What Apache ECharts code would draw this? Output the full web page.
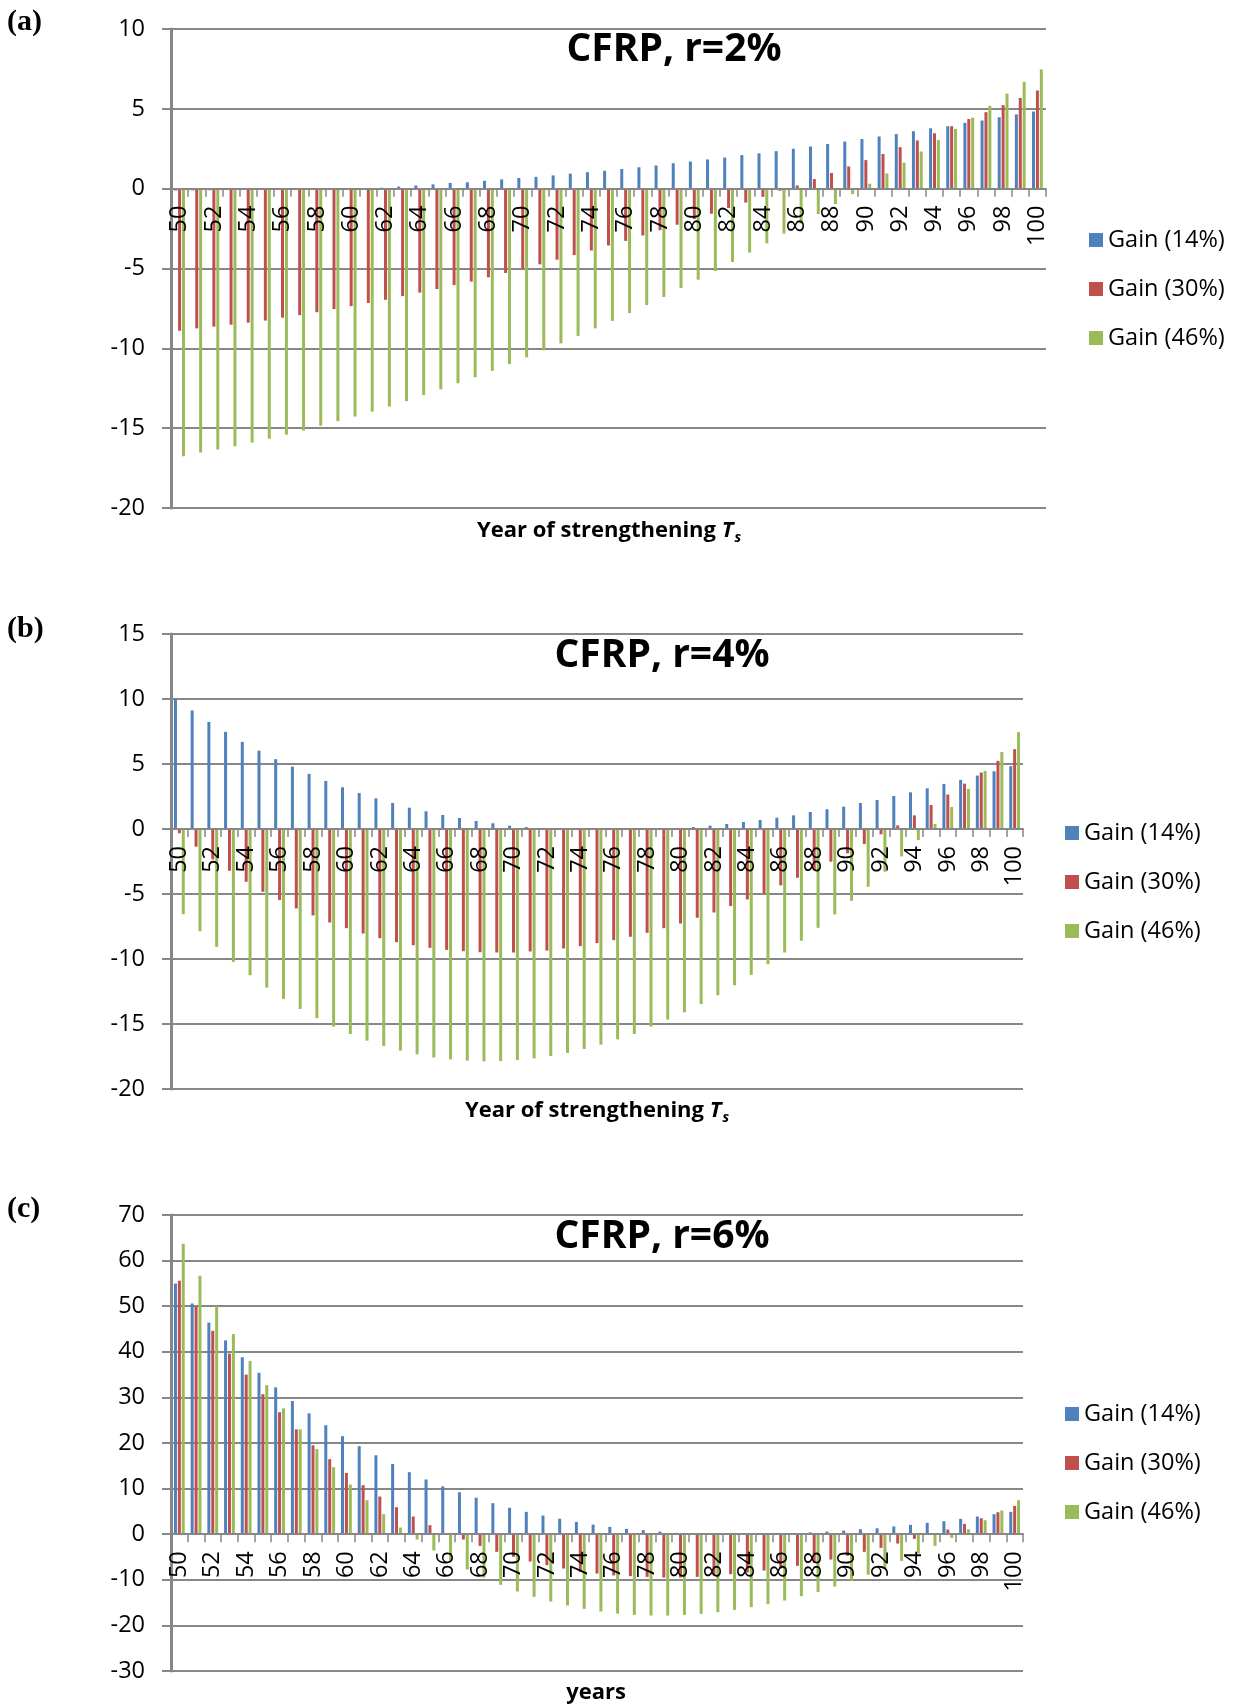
<!DOCTYPE html>
<html>
<head>
<meta charset="utf-8">
<script src="https://cdn.jsdelivr.net/npm/echarts@6/dist/echarts.min.js"></script>
<style>
html,body{margin:0;padding:0;background:#fff;}
#chart{width:1241px;height:1708px;}
</style>
</head>
<body>
<div id="chart"></div>
<script>
const years = ['50','51','52','53','54','55','56','57','58','59','60','61','62','63','64','65','66','67','68','69','70','71','72','73','74','75','76','77','78','79','80','81','82','83','84','85','86','87','88','89','90','91','92','93','94','95','96','97','98','99','100'];

const seriesNames = ['Gain (14%)', 'Gain (30%)', 'Gain (46%)'];

// Panel (a): CFRP, r=2%
const gain14_r2 = [-0.12,-0.11,-0.10,-0.09,-0.08,-0.07,-0.06,-0.05,-0.04,-0.03,-0.01,0.02,0.06,0.13,0.20,0.27,0.36,0.40,0.49,0.58,0.67,0.74,0.83,0.94,1.03,1.12,1.23,1.34,1.45,1.59,1.70,1.83,1.95,2.10,2.21,2.35,2.50,2.64,2.80,2.95,3.11,3.27,3.42,3.60,3.78,3.91,4.12,4.27,4.47,4.65,4.83];
const gain30_r2 = [-8.90,-8.75,-8.64,-8.52,-8.39,-8.26,-8.08,-7.92,-7.74,-7.54,-7.36,-7.16,-6.96,-6.73,-6.51,-6.29,-6.04,-5.82,-5.55,-5.28,-5.01,-4.74,-4.45,-4.16,-3.87,-3.56,-3.27,-2.93,-2.60,-2.26,-1.90,-1.57,-1.21,-0.87,-0.51,-0.13,0.20,0.60,0.98,1.39,1.79,2.17,2.60,3.02,3.47,3.91,4.36,4.79,5.23,5.68,6.15];
const gain46_r2 = [-16.76,-16.53,-16.33,-16.13,-15.90,-15.66,-15.41,-15.15,-14.85,-14.56,-14.27,-13.96,-13.65,-13.31,-12.93,-12.57,-12.19,-11.81,-11.41,-10.98,-10.56,-10.13,-9.69,-9.22,-8.75,-8.28,-7.79,-7.29,-6.78,-6.22,-5.70,-5.15,-4.59,-4.00,-3.42,-2.82,-2.19,-1.59,-0.96,-0.34,0.31,0.96,1.63,2.33,3.04,3.74,4.45,5.19,5.95,6.69,7.47];

// Panel (b): CFRP, r=4%
const gain14_r4 = [10.00,9.12,8.24,7.47,6.70,6.03,5.37,4.80,4.24,3.70,3.21,2.77,2.36,2.00,1.64,1.36,1.08,0.85,0.62,0.44,0.26,0.15,0.05,0.00,-0.02,-0.05,-0.07,-0.06,-0.03,0.00,0.05,0.15,0.26,0.39,0.54,0.69,0.87,1.05,1.31,1.52,1.72,2.00,2.23,2.54,2.82,3.13,3.47,3.78,4.11,4.44,4.83];
const gain30_r4 = [-0.33,-1.36,-2.34,-3.21,-4.06,-4.83,-5.47,-6.11,-6.65,-7.19,-7.63,-8.04,-8.40,-8.71,-8.94,-9.14,-9.30,-9.40,-9.48,-9.50,-9.50,-9.42,-9.35,-9.19,-9.01,-8.78,-8.55,-8.29,-7.99,-7.63,-7.27,-6.83,-6.42,-5.93,-5.42,-4.96,-4.34,-3.75,-3.16,-2.52,-1.87,-1.16,-0.41,0.28,1.05,1.85,2.65,3.49,4.34,5.24,6.14];
const gain46_r4 = [-6.55,-7.86,-9.07,-10.22,-11.25,-12.20,-13.07,-13.84,-14.56,-15.20,-15.77,-16.28,-16.69,-17.05,-17.33,-17.57,-17.72,-17.82,-17.87,-17.85,-17.77,-17.64,-17.46,-17.23,-16.92,-16.59,-16.18,-15.77,-15.20,-14.66,-14.10,-13.46,-12.79,-12.02,-11.22,-10.40,-9.50,-8.60,-7.60,-6.57,-5.52,-4.44,-3.29,-2.11,-0.85,0.39,1.69,3.08,4.47,5.93,7.45];

// Panel (c): CFRP, r=6%
const gain14_r6 = [54.97,50.6,46.4,42.5,38.8,35.4,32.2,29.2,26.5,23.9,21.5,19.3,17.3,15.4,13.6,12.0,10.5,9.2,8.0,6.8,5.8,4.9,4.1,3.4,2.7,2.1,1.6,1.17,0.88,0.58,0.3,0.1,0.0,-0.1,-0.1,-0.05,0.0,0.1,0.4,0.58,0.8,1.1,1.3,1.7,2.05,2.5,2.85,3.36,3.87,4.39,4.9];
const gain30_r6 = [55.6,50.0,44.6,39.6,35.0,30.7,26.75,23.0,19.5,16.45,13.45,10.75,8.26,5.92,3.87,1.97,0.15,-1.17,-2.56,-3.87,-4.97,-5.99,-6.8,-7.53,-8.26,-8.63,-9.03,-9.2,-9.36,-9.5,-9.5,-9.36,-9.06,-8.77,-8.4,-7.97,-7.53,-6.94,-6.29,-5.56,-4.75,-3.87,-3.0,-2.05,-1.02,0.0,1.02,2.27,3.5,4.82,6.2];
const gain46_r6 = [63.7,56.7,50.0,43.9,38.0,32.7,27.6,23.0,18.7,14.7,10.9,7.46,4.39,1.46,-1.17,-3.58,-5.7,-7.75,-9.5,-11.1,-12.57,-13.74,-14.77,-15.64,-16.37,-16.96,-17.4,-17.7,-17.84,-17.84,-17.7,-17.47,-17.1,-16.6,-16.0,-15.35,-14.55,-13.6,-12.65,-11.48,-10.16,-8.9,-7.46,-5.85,-4.24,-2.56,-0.8,1.1,3.07,5.19,7.46];

const panelTitles = ['CFRP, r=2%', 'CFRP, r=4%', 'CFRP, r=6%'];
const panelTags = ['(a)', '(b)', '(c)'];
const axisNames = ['Year of strengthening ', 'Year of strengthening ', 'years'];
const yRanges = [[-20, 10, 5], [-20, 15, 5], [-30, 70, 10]];

const panelData = [
  [gain14_r2, gain30_r2, gain46_r2],
  [gain14_r4, gain30_r4, gain46_r4],
  [gain14_r6, gain30_r6, gain46_r6]
];

const colors = ['#4F81BD', '#C0504D', '#9BBB59'];
const gray = '#878787';
const FONT = 'Open Sans';

const grids = [
  {left: 171, top: 29, width: 875, height: 479},
  {left: 171, top: 634, width: 852, height: 455},
  {left: 171, top: 1215, width: 852, height: 456}
];
const legendPos = [{left: 1089, top: 228}, {left: 1065, top: 821}, {left: 1065, top: 1402}];
const titlePos = [{x: 674, y: 50}, {x: 662, y: 656}, {x: 662, y: 1237}];
const tagPos = [23, 630, 1210];
const namePos = [{x: 609, y: 531}, {x: 597, y: 1111}, {x: 596, y: 1693}];

// x axis drawn through the zero value of each panel's value axis
function zeroOffset(i) {
  const r = yRanges[i], g = grids[i];
  return -g.height * (0 - r[0]) / (r[1] - r[0]);
}

const option = {
  backgroundColor: '#fff',
  animation: false,
  color: colors,
  grid: grids.map(g => Object.assign({containLabel: false}, g)),
  xAxis: grids.map((g, i) => ({
    type: 'category',
    gridIndex: i,
    data: years,
    position: 'bottom',
    offset: zeroOffset(i),
    z: 10,
    axisLine: {onZero: false, lineStyle: {color: gray, width: 2}},
    axisTick: {show: true, interval: 0, length: 8, lineStyle: {color: gray, width: 1.5}},
    axisLabel: {interval: 1, rotate: 90, margin: 17, color: '#000', fontSize: 23.5, fontFamily: FONT},
    splitLine: {show: false}
  })),
  yAxis: yRanges.map((r, i) => ({
    type: 'value',
    gridIndex: i,
    min: r[0], max: r[1], interval: r[2],
    axisLine: {show: true, lineStyle: {color: gray, width: 3}},
    axisTick: {show: true, length: 9, lineStyle: {color: gray, width: 2}},
    axisLabel: {color: '#000', fontSize: 23.5, fontFamily: FONT, margin: 26},
    splitLine: {show: true, lineStyle: {color: gray, width: 2}}
  })),
  legend: legendPos.map(p => ({
    orient: 'vertical',
    left: p.left, top: p.top,
    padding: 0,
    itemWidth: 14, itemHeight: 14, itemGap: 25,
    icon: 'rect',
    data: seriesNames,
    textStyle: {fontSize: 23.5, fontFamily: FONT, color: '#000'}
  })),
  title: panelTitles.map((t, i) => ({
    text: t,
    left: titlePos[i].x, top: titlePos[i].y,
    textAlign: 'center', textVerticalAlign: 'middle',
    padding: 0,
    textStyle: {fontSize: 39, fontWeight: 'bold', fontFamily: FONT, color: '#000'}
  })),
  graphic: [].concat(
    panelTags.map((t, i) => ({
      type: 'text', left: 7, top: tagPos[i] - 16,
      style: {text: t, font: 'bold 30px "Liberation Serif", serif', fill: '#000'}
    })),
    axisNames.map((n, i) => ({
      type: 'text',
      x: namePos[i].x, y: namePos[i].y,
      style: i < 2 ? {
        text: '{b|' + n + '}{i|T}{s|s}',
        align: 'center', verticalAlign: 'middle',
        rich: {
          b: {fontSize: 22, fontWeight: 'bold', fontFamily: FONT, fill: '#000'},
          i: {fontSize: 22, fontWeight: 'bold', fontStyle: 'italic', fontFamily: FONT, fill: '#000'},
          s: {fontSize: 14, fontWeight: 'bold', fontStyle: 'italic', fontFamily: FONT, fill: '#000', padding: [14, 0, 0, 1]}
        }
      } : {
        text: n, align: 'center', verticalAlign: 'middle',
        font: 'bold 22px "Open Sans"', fill: '#000'
      }
    }))
  ),
  series: []
};

panelData.forEach((arrs, p) => {
  arrs.forEach((arr, k) => {
    option.series.push({
      type: 'bar',
      name: seriesNames[k],
      xAxisIndex: p, yAxisIndex: p,
      data: arr,
      barWidth: 3,
      barGap: '30%',
      itemStyle: {color: colors[k]}
    });
  });
});

const chart = echarts.init(document.getElementById('chart'), null, {renderer: 'canvas'});
chart.setOption(option);
</script>
</body>
</html>
